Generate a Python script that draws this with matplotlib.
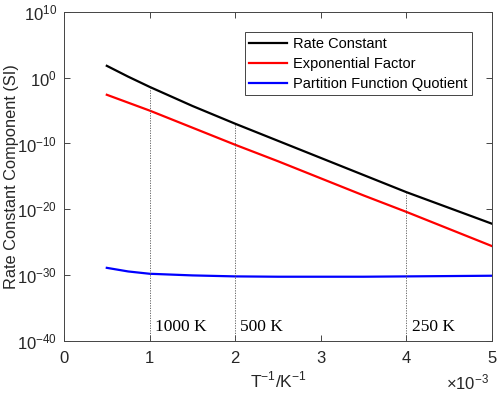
import numpy as np
import matplotlib
matplotlib.use("Agg")
import matplotlib.pyplot as plt

plt.rcParams['font.family'] = ['Liberation Sans', 'DejaVu Sans']
plt.rcParams['mathtext.fontset'] = 'custom'
plt.rcParams['mathtext.rm'] = 'Liberation Sans'

# inverse temperature in units of 1e-3 K^-1
inv_T = [0.5, 0.75, 1.0, 1.5, 2.0, 2.5, 3.0, 3.5, 4.0, 4.5, 5.0]
# log10 of each component
log_rate = [1.8, 0.15, -1.4, -4.3, -7.0, -9.6, -12.2, -14.8, -17.4, -19.8, -22.2]
log_exp = [-2.6, -3.8, -5.0, -7.6, -10.2, -12.7, -15.3, -17.9, -20.4, -23.0, -25.6]
log_part = [-28.9, -29.45, -29.8, -30.05, -30.2, -30.25, -30.25, -30.25, -30.2, -30.15, -30.1]

marked_T = [1000, 500, 250]
marked_x = [1.0, 2.0, 4.0]
marked_log_rate = [-1.4, -7.0, -17.4]

series = [
    ("Rate Constant", log_rate, "black"),
    ("Exponential Factor", log_exp, "red"),
    ("Partition Function Quotient", log_part, "blue"),
]

fig = plt.figure(figsize=(4.98, 3.95), dpi=100)
ax = fig.add_axes([0.1285, 0.137, 0.8595, 0.833])

for name, vals, col in series:
    ax.plot(inv_T, 10.0 ** np.array(vals), color=col, lw=1.6, label=name)

for x, T, ly in zip(marked_x, marked_T, marked_log_rate):
    ax.plot([x, x], [1e-40, 10.0 ** ly], color='#555555', lw=0.6, ls=(0, (1.5, 1.5)))
    ax.text(x + 0.06, 10.0 ** -37.9, f"{T} K", family='Liberation Serif',
            fontsize=12.5, va='center', ha='left')

ax.set_yscale('log')
ax.set_xlim(0, 5)
ax.set_ylim(1e-40, 1e10)
ax.set_yticks([10.0 ** k for k in range(-40, 11, 10)])
ax.yaxis.set_minor_locator(matplotlib.ticker.NullLocator())
ax.set_xticks([0, 1, 2, 3, 4, 5])

ax.tick_params(direction='in', top=True, right=True, labelsize=12,
               colors='#262626', length=4, width=0.6)
ax.tick_params(axis='x', pad=7)
ax.tick_params(axis='y', pad=5)
for s in ax.spines.values():
    s.set_color('#444444')
    s.set_linewidth(0.7)

ax.set_xlabel("T$^{-1}$/K$^{-1}$", fontsize=12.5, color='#262626', labelpad=3)
ax.set_ylabel("Rate Constant Component (SI)", fontsize=11.8, color='#262626')
ax.yaxis.set_label_coords(-0.104, 0.5)
ax.text(0.993, -0.095, r"$\times\mathdefault{10^{-3}}$", transform=ax.transAxes,
        ha='right', va='top', fontsize=12, color='#262626')

leg = ax.legend(loc='upper right', bbox_to_anchor=(0.97, 0.96), fontsize=10.5,
                fancybox=False, framealpha=1, edgecolor='#444444',
                borderpad=0.3, labelspacing=0.42, handlelength=2.6, handletextpad=0.4)
leg.get_frame().set_linewidth(0.7)

fig.savefig("out.png", dpi=100)
